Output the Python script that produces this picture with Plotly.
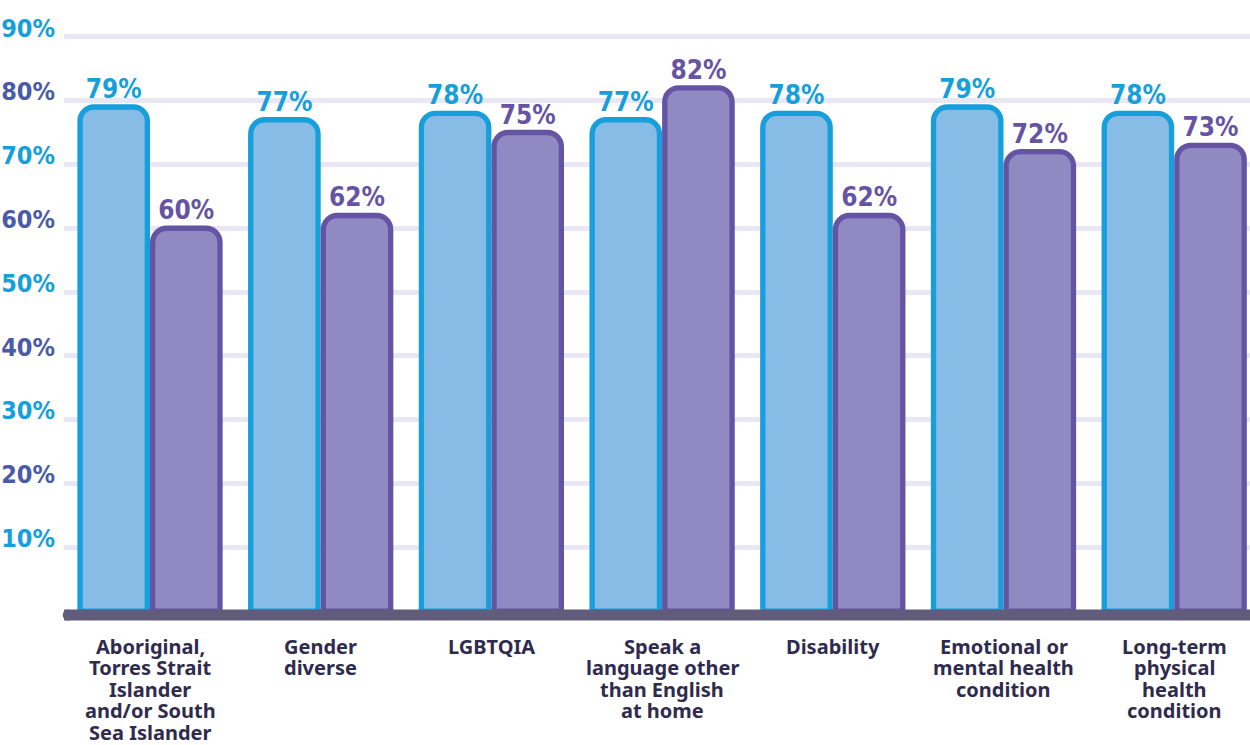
import plotly.graph_objects as go

# Survey results by group (two series per group)
categories = [
    ["Aboriginal,", "Torres Strait", "Islander", "and/or South", "Sea Islander"],
    ["Gender", "diverse"],
    ["LGBTQIA"],
    ["Speak a", "language other", "than English", "at home"],
    ["Disability"],
    ["Emotional or", "mental health", "condition"],
    ["Long-term", "physical", "health", "condition"],
]
series_blue = [79, 77, 78, 77, 78, 79, 78]
series_purple = [60, 62, 75, 82, 62, 72, 73]
tick_values = [10, 20, 30, 40, 50, 60, 70, 80, 90]
tick_labels = ["10%", "20%", "30%", "40%", "50%", "60%", "70%", "80%", "90%"]

BLUE_FILL = "#86BCE5"
BLUE_LINE = "#169FDA"
PURPLE_FILL = "#9189C1"
PURPLE_LINE = "#6553A3"
INDIGO = "#4A5BA7"
BASE = "#615B7C"
GRID = "#E9E7F3"
LABEL = "#2F2B4E"

COND = "DejaVu Sans Condensed, DejaVu Sans, sans-serif"
x = list(range(len(categories)))

fig = go.Figure()
for vals, fill, line in [(series_blue, BLUE_FILL, BLUE_LINE),
                         (series_purple, PURPLE_FILL, PURPLE_LINE)]:
    fig.add_trace(go.Bar(
        x=x, y=vals,
        marker=dict(color=fill, line=dict(color=line, width=5.3), cornerradius=14),
        text=[f"{v}%" for v in vals],
        textposition="outside",
        textfont=dict(family=COND, size=26, color=line, weight="bold"),
        cliponaxis=False,
        hoverinfo="skip",
    ))

# alternating colours on the y tick labels
ticktext = [
    f"<span style='color:{BLUE_LINE if i % 2 == 0 else INDIGO}'>{t}</span>"
    for i, t in enumerate(tick_labels)
]

# category labels, one annotation per line for tight line spacing
annotations = []
for i, lines in enumerate(categories):
    for k, ln in enumerate(lines):
        annotations.append(dict(
            x=i, y=0, xref="x", yref="y", text=f"<b>{ln}</b>",
            showarrow=False, xanchor="center", yanchor="middle",
            yshift=-35 - 21.5 * k,
            font=dict(family="Noto Sans", size=20, color=LABEL),
        ))

# thick baseline with a rounded left end
shapes = [
    dict(type="line", xref="paper", yref="y", x0=0, x1=1, y0=-0.6, y1=-0.6,
         line=dict(color=BASE, width=11), layer="above"),
    dict(type="circle", xref="paper", yref="y", xsizemode="pixel", ysizemode="pixel",
         xanchor=0, yanchor=-0.6, x0=-1.3, x1=9.7, y0=-5.5, y1=5.5,
         fillcolor=BASE, line=dict(width=0), layer="above"),
]

fig.update_layout(
    width=1250, height=745,
    margin=dict(l=64, r=0, t=24, b=121),
    paper_bgcolor="white", plot_bgcolor="white",
    barmode="group", bargap=0.149, bargroupgap=0.073,
    showlegend=False,
    annotations=annotations,
    shapes=shapes,
    xaxis=dict(range=[-0.5038, 6.444], showticklabels=False, showgrid=False,
               zeroline=False, showline=False, ticks="", automargin=False),
    yaxis=dict(range=[-2, 92], tickvals=tick_values, ticktext=ticktext,
               showgrid=True, gridcolor=GRID, gridwidth=5, zeroline=False,
               showline=False, ticks="", ticklabelshift=-9, ticklabelstandoff=8,
               automargin=False,
               tickfont=dict(family=COND, size=25, color=BLUE_LINE, weight="bold")),
)

fig.write_html("out.html")
